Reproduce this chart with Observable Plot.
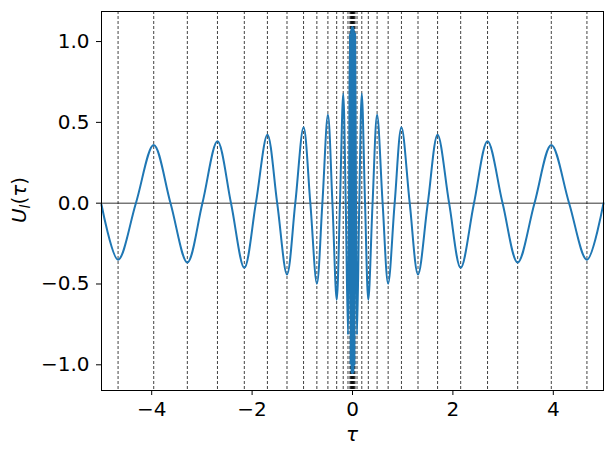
<!DOCTYPE html>
<html>
<head>
<meta charset="utf-8">
<script src="https://cdn.jsdelivr.net/npm/d3@7"></script>
<script src="https://cdn.jsdelivr.net/npm/@observablehq/plot@0.6"></script>
<style>
  html, body { margin: 0; padding: 0; background: white; }
  svg { display: block; }
</style>
</head>
<body>
<div id="chart"></div>
<script>
// Curve points (extrema and zero crossings), tau and U_l(tau)
const curveTau = [
  -5.0, -4.67, -4.315, -3.96, -3.625, -3.29, -2.99, -2.69, -2.42, -2.155, -1.925, -1.695,
  -1.50, -1.305, -1.14, -0.975, -0.84, -0.71, -0.60, -0.49, -0.40, -0.315, -0.25, -0.185,
  -0.135, -0.09, -0.07, -0.052, -0.038, -0.027, -0.019, -0.013, -0.009, -0.006, -0.004, -0.0025, -0.0015,
  0,
  0.0015, 0.0025, 0.004, 0.006, 0.009, 0.013, 0.019, 0.027, 0.038, 0.052, 0.07, 0.09,
  0.135, 0.185, 0.25, 0.315, 0.40, 0.49, 0.60, 0.71, 0.84, 0.975, 1.14, 1.305,
  1.50, 1.695, 1.925, 2.155, 2.42, 2.69, 2.99, 3.29, 3.625, 3.96, 4.315, 4.67, 5.0
];
const curveU = [
  -0.01, -0.350, 0, 0.360, 0, -0.367, 0, 0.383, 0, -0.400, 0, 0.423,
  0, -0.441, 0, 0.470, 0, -0.498, 0, 0.547, 0, -0.597, 0, 0.677,
  0, -0.814, 0, 1.05, -1.0, 1.08, -1.05, 1.09, -1.05, 1.09, -1.05, 1.09, -1.05,
  1.09,
  -1.05, 1.09, -1.05, 1.09, -1.05, 1.09, -1.05, 1.08, -1.0, 1.05, 0, -0.814,
  0, 0.677, 0, -0.597, 0, 0.547, 0, -0.498, 0, 0.470, 0, -0.441,
  0, 0.423, 0, -0.400, 0, 0.383, 0, -0.367, 0, 0.360, 0, -0.350, 0.0
];
// Dashed vertical lines at the extrema
const extremaTau = [
  -4.67, -3.96, -3.29, -2.69, -2.155, -1.695, -1.305, -0.975, -0.71, -0.49, -0.315, -0.185, -0.09,
  -0.052, -0.038, -0.027, -0.019, -0.013, -0.009, -0.006, -0.004, -0.0025, -0.0015, 0,
  0.0015, 0.0025, 0.004, 0.006, 0.009, 0.013, 0.019, 0.027, 0.038, 0.052,
  0.09, 0.185, 0.315, 0.49, 0.71, 0.975, 1.305, 1.695, 2.155, 2.69, 3.29, 3.96, 4.67
];
const xTicks = [-4, -2, 0, 2, 4];
const yTicks = [-1.0, -0.5, 0.0, 0.5, 1.0];

const curve = curveTau.map((t, i) => ({tau: t, u: curveU[i]}));
const minus = s => s.replace("-", "\u2212");

const chart = Plot.plot({
  width: 615,
  height: 455,
  marginLeft: 101,
  marginRight: 12,
  marginTop: 11,
  marginBottom: 65,
  style: {fontFamily: "DejaVu Sans", fontSize: "20px", color: "black", background: "white"},
  x: {domain: [-5, 5]},
  y: {domain: [-1.159, 1.186]},
  marks: [
    Plot.ruleX(extremaTau, {stroke: "#111", strokeWidth: 0.8, strokeDasharray: "3,2"}),
    Plot.ruleY([0], {stroke: "black", strokeWidth: 0.8}),
    Plot.line(curve, {x: "tau", y: "u", stroke: "#1f77b4", strokeWidth: 2, curve: "catmull-rom"}),
    Plot.frame({stroke: "black", strokeWidth: 1}),
    Plot.axisX({ticks: xTicks, tickFormat: d => minus(String(d)), tickSize: 5, tickPadding: 6,
      fontSize: 20, label: null, stroke: "black"}),
    Plot.axisY({ticks: yTicks, tickFormat: d => minus(d.toFixed(1)), tickSize: 5, tickPadding: 7,
      fontSize: 20, label: null, stroke: "black"})
  ]
});

const svg = d3.select(chart);
svg.append("text")
  .attr("x", 352).attr("y", 441)
  .attr("text-anchor", "middle")
  .attr("font-family", "DejaVu Sans").attr("font-size", 20).attr("font-style", "italic")
  .attr("fill", "black")
  .text("τ");
const yl = svg.append("text")
  .attr("transform", "translate(26,200) rotate(-90)")
  .attr("text-anchor", "middle")
  .attr("font-family", "DejaVu Sans").attr("font-size", 20)
  .attr("fill", "black");
yl.append("tspan").attr("font-style", "italic").text("U");
yl.append("tspan").attr("font-style", "italic").attr("font-size", 14).attr("dy", 4).text("l");
yl.append("tspan").attr("dy", -4).text("(");
yl.append("tspan").attr("font-style", "italic").text("τ");
yl.append("tspan").text(")");

document.getElementById("chart").appendChild(chart);
</script>
</body>
</html>
